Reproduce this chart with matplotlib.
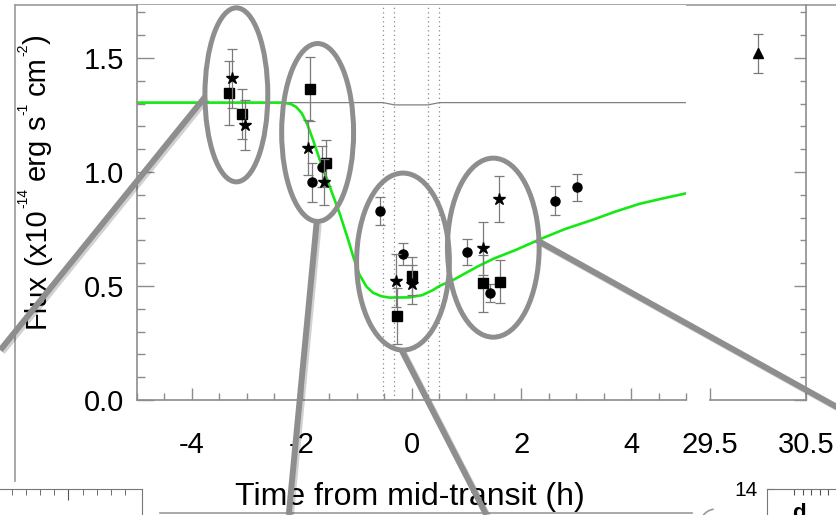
import matplotlib
matplotlib.use("Agg")
import matplotlib.pyplot as plt
import matplotlib.patheffects as pe
from matplotlib.patches import Ellipse, Arc
from matplotlib.lines import Line2D
from matplotlib.transforms import IdentityTransform
from matplotlib.ticker import MultipleLocator, FixedLocator, NullLocator

plt.rcParams["font.family"] = ["Liberation Sans", "DejaVu Sans"]
plt.rcParams["font.size"] = 21
plt.rcParams["axes.unicode_minus"] = False

# model light curve (time from mid-transit in h, flux)
model_t = [-5.0, -2.35, -2.2, -2.1, -2.0, -1.9, -1.8, -1.67, -1.49, -1.31, -1.15,
           -1.05, -0.95, -0.82, -0.7, -0.55, -0.4, -0.04, 0.2, 0.39, 0.51, 0.78,
           1.2, 1.5, 1.9, 2.35, 2.8, 3.3, 3.7, 4.15, 4.6, 5.0]
model_f = [1.304, 1.304, 1.298, 1.285, 1.258, 1.21, 1.145, 1.053, 0.936, 0.819, 0.70,
           0.62, 0.55, 0.497, 0.47, 0.455, 0.449, 0.45, 0.46, 0.482, 0.50, 0.529,
           0.585, 0.62, 0.658, 0.706, 0.75, 0.79, 0.825, 0.86, 0.885, 0.906]

# optical transit of the planet alone
base_t = [-5.0, -0.52, -0.31, 0.30, 0.51, 5.0]
base_f = [1.304, 1.304, 1.294, 1.294, 1.304, 1.304]

# contact times
contacts = [-0.52, -0.31, 0.30, 0.51]

# measurements (h, flux, 1-sigma)
sq_t = [-3.32, -3.08, -1.85, -1.56, -0.27, 0.01, 1.31, 1.61]
sq_f = [1.345, 1.253, 1.363, 1.038, 0.368, 0.544, 0.512, 0.519]
sq_e = [0.14, 0.11, 0.14, 0.10, 0.123, 0.085, 0.125, 0.095]

st_t = [-3.27, -3.04, -1.88, -1.60, -0.29, 0.00, 1.30, 1.59]
st_f = [1.41, 1.206, 1.107, 0.957, 0.523, 0.507, 0.665, 0.882]
st_e = [0.13, 0.11, 0.12, 0.10, 0.115, 0.085, 0.115, 0.10]

ci_t = [-1.82, -1.63, -0.57, -0.16, 1.02, 1.43, 2.62, 3.02]
ci_f = [0.955, 1.023, 0.83, 0.64, 0.65, 0.47, 0.873, 0.933]
ci_e = [0.085, 0.09, 0.062, 0.048, 0.056, 0.04, 0.064, 0.059]

tri_t = [30.0]
tri_f = [1.52]
tri_e = [0.085]

# highlighted groups: centre (h, flux), width (h), height (flux)
groups = [(-3.19, 1.338, 1.145, 0.763),
          (-1.71, 1.173, 1.31, 0.78),
          (-0.155, 0.607, 1.69, 0.776),
          (1.49, 0.668, 1.67, 0.785)]
# zoom connectors from the groups to the other panels
connectors = [((-3.76, -7.49), (1.329, 0.219)),
              ((-1.727, -2.236), (0.781, -0.504)),
              ((-0.182, 1.364), (0.219, -0.504)),
              ((2.273, 7.78), (0.702, -0.035))]

W, H = 836, 515
def box(x0, y0, x1, y1):
    return [x0 / W, 1 - y1 / H, (x1 - x0) / W, (y1 - y0) / H]

axc = '#8c8c8c'
ebc = '#7a7a7a'
zoomc = '#8e8e8e'

fig = plt.figure(figsize=(8.36, 5.15), dpi=100)
ax1 = fig.add_axes(box(137, 5, 686, 400), zorder=5)
ax2 = fig.add_axes(box(710, 5, 806, 400), zorder=2)
ax2.patch.set_alpha(0)

for ax in (ax1, ax2):
    ax.set_ylim(0, 1.732)
    for s in ax.spines.values():
        s.set_color(axc)
        s.set_linewidth(1.2)
ax1.set_xlim(-5, 5)
ax2.set_xlim(29.5, 30.5)

ax1.spines['top'].set_visible(False)
ax1.spines['right'].set_visible(False)
ax2.spines['top'].set_visible(False)
ax2.spines['left'].set_visible(False)

ax1.xaxis.set_major_locator(FixedLocator([-4, -2, 0, 2, 4]))
ax1.xaxis.set_minor_locator(MultipleLocator(0.5))
ax1.yaxis.set_major_locator(MultipleLocator(0.5))
ax1.yaxis.set_minor_locator(MultipleLocator(0.1))
ax1.tick_params(axis='x', which='major', direction='in', length=9, width=1, color=axc, pad=22)
ax1.tick_params(axis='x', which='minor', direction='in', length=5, width=1, color=axc)
ax1.tick_params(axis='y', which='major', direction='in', length=12, width=1, color=axc, pad=9.5)
ax1.tick_params(axis='y', which='minor', direction='in', length=6, width=1, color=axc)

ax2.xaxis.set_major_locator(FixedLocator([29.5, 30.5]))
ax2.xaxis.set_minor_locator(NullLocator())
ax2.yaxis.set_major_locator(MultipleLocator(0.5))
ax2.yaxis.set_minor_locator(MultipleLocator(0.1))
ax2.yaxis.tick_right()
ax2.tick_params(axis='x', which='major', direction='in', length=9, width=1, color=axc, pad=22)
ax2.tick_params(axis='y', which='major', direction='in', length=9, width=1, color=axc, labelright=False)
ax2.tick_params(axis='y', which='minor', direction='in', length=4, width=1, color=axc)

# transit contacts and models
for t in contacts:
    ax1.axvline(t, color='#8a8a8a', lw=0.9, ls=(0, (1, 2.6)), zorder=1)
ax1.plot(base_t, base_f, color='#808080', lw=0.9, zorder=1.5)
ax1.plot(model_t, model_f, color='#16e816', lw=1.9, zorder=2)

eb = dict(ecolor=ebc, elinewidth=0.9, capsize=3.6, capthick=0.9, mfc='k', mec='k', ls='none')
ax1.errorbar(ci_t, ci_f, yerr=ci_e, fmt='o', ms=6.5, zorder=3, **eb)
ax1.errorbar(sq_t, sq_f, yerr=sq_e, fmt='s', ms=6.5, zorder=3.2, **eb)
ax1.errorbar(st_t, st_f, yerr=st_e, fmt='*', ms=9, zorder=3.4, **eb)
ax2.errorbar(tri_t, tri_f, yerr=tri_e, fmt='^', ms=6.5, zorder=3, **eb)

# zoom annotations
shadow = [pe.SimpleLineShadow(offset=(1.5, -1.5), shadow_color='k', alpha=0.18), pe.Normal()]
for xs, ys in connectors:
    ax1.add_line(Line2D(xs, ys, color=zoomc, lw=4.3, clip_on=False, zorder=6,
                        solid_capstyle='butt', path_effects=shadow))
for t, f, w, h in groups:
    ax1.add_patch(Ellipse((t, f), w, h, fill=False, ec=zoomc, lw=3.6,
                          clip_on=False, zorder=7))

fig.text(410 / W, 1 - 505 / H, 'Time from mid-transit (h)', fontsize=23,
         ha='center', va='baseline')

# y label written piecewise so the exponents stay small
renderer = fig.canvas.get_renderer()

def advance(s, size):
    t1 = fig.text(0, 0, '|' + s + '|', fontsize=size)
    t2 = fig.text(0, 0, '||', fontsize=size)
    w = t1.get_window_extent(renderer).width - t2.get_window_extent(renderer).width
    t1.remove()
    t2.remove()
    return w

ylabel_parts = [('Flux', 21, 0, True), ('(x10', 21, 0, False), ('-14', 10, 18, True),
                ('erg', 21, 0, True), ('s', 21, 0, False), ('-1', 10, 18, True),
                ('cm', 21, 0, False), ('-2', 10, 18, False), (')', 21, 0, False)]
lx, ly = 45, H - 328
space = advance(' ', 21)
for s, size, rise, gap in ylabel_parts:
    fig.text(lx - rise, ly, s, fontsize=size, rotation=90, rotation_mode='anchor',
             ha='left', va='baseline', transform=IdentityTransform())
    ly += advance(s, size) + (space if gap else 0)

# surrounding panel frames
frame = '#9a9a9a'
fig.add_artist(Line2D([15 / W, 15 / W], [1 - 5 / H, 1 - 481 / H], color=frame, lw=1.2))
fig.add_artist(Line2D([15 / W, 1.0], [1 - 5 / H, 1 - 5 / H], color=frame, lw=1.2))
fig.add_artist(Line2D([160 / W, 692 / W], [1 - 513 / H, 1 - 513 / H], color=frame, lw=1.2))
fig.add_artist(Arc((716 / W, 1 - 525 / H), 32 / W, 32 / H, theta1=95, theta2=200,
                   color=frame, lw=1.2))

axbl = fig.add_axes(box(-60, 489, 141.7, 560), zorder=1)
axbl.set_xlim(-4.04, 10.17)
axbl.set_ylim(0, 1)
axbl.xaxis.tick_top()
axbl.xaxis.set_major_locator(FixedLocator([5]))
axbl.xaxis.set_minor_locator(FixedLocator(list(range(-4, 10))))
axbl.tick_params(axis='x', which='major', direction='in', length=8, color='#555555', labeltop=False)
axbl.tick_params(axis='x', which='minor', direction='in', length=4, color='#555555')
axbl.yaxis.set_major_locator(NullLocator())
for k, s in axbl.spines.items():
    s.set_visible(k in ('top', 'right'))
    s.set_color('#777777')

axbr = fig.add_axes(box(767, 489, 900, 560), zorder=1)
axbr.set_xlim(-0.18, 15.47)
axbr.set_ylim(0, 14)
axbr.xaxis.tick_top()
axbr.xaxis.set_major_locator(FixedLocator([3, 4, 5, 6, 7]))
axbr.tick_params(axis='x', direction='in', length=4, color='#555555', labeltop=False)
axbr.yaxis.set_major_locator(FixedLocator([14]))
axbr.tick_params(axis='y', direction='in', length=5, color='#555555', labelsize=15, pad=7)
for k, s in axbr.spines.items():
    s.set_visible(k in ('top', 'left'))
    s.set_color('#777777')
fig.text(792 / W, 1 - 503 / H, 'd', fontsize=16, weight='bold', va='top')

fig.savefig('out.png', dpi=100)
